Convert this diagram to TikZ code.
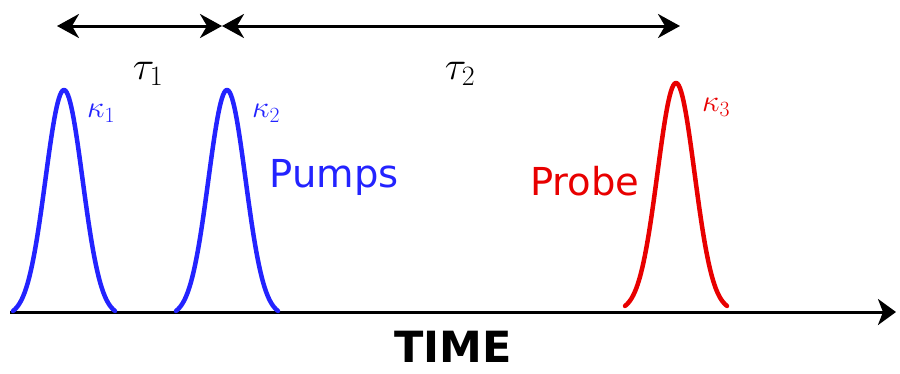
\RequirePackage{fix-cm}
\documentclass[tikz,border=0pt]{standalone}
\usepackage{fontspec}
\setmainfont{DejaVu Sans}
\usetikzlibrary{arrows.meta}
\definecolor{pumpblue}{RGB}{35,35,255}
\definecolor{probered}{RGB}{232,0,0}
\begin{document}
\begin{tikzpicture}[x=1pt,y=-1pt,
  pulse/.style={line width=4.5pt,line cap=round,line join=round},
  delay/.style={line width=3pt,{Stealth[length=22pt,width=24pt,inset=7pt]}-{Stealth[length=22pt,width=24pt,inset=7pt]}},
  axisline/.style={line width=3pt,-{Stealth[length=18pt,width=26pt,inset=5pt]}},
  mathlbl/.style={inner sep=0pt,font=\fontsize{40}{42}\selectfont},
  kaplbl/.style={inner sep=0pt,font=\fontsize{31}{33}\selectfont},
  txtlbl/.style={inner sep=0pt,font=\fontsize{38.5}{40}\selectfont}]
\useasboundingbox (0,0) rectangle (900,373);
% axis
\coordinate (ax0) at (10,312);
\coordinate (ax1) at (896,312);
\draw[axisline] (ax0) -- (ax1);
% delay arrows
\coordinate (a1) at (57,26);
\coordinate (a2) at (222,26);
\coordinate (a3) at (680,26);
\draw[delay] (a1) -- (a2);
\draw[delay] (a2) -- (a3);
% pulses
\draw[pulse,pumpblue] plot[domain=-51:51,samples=90] ({64+\x},{311-221*(exp(-(\x*\x)/(2*18.5*18.5))-0.022)/0.978});
\draw[pulse,pumpblue] plot[domain=-51:51,samples=90] ({227+\x},{311-221*(exp(-(\x*\x)/(2*18.5*18.5))-0.022)/0.978});
\draw[pulse,probered] plot[domain=-51:51,samples=90] ({676+\x},{306-223*(exp(-(\x*\x)/(2*18.5*18.5))-0.022)/0.978});
% labels
\node[mathlbl] (t1) at (148,74) {$\tau_1$};
\node[mathlbl] (t2) at (460,74) {$\tau_2$};
\node[kaplbl,pumpblue] (k1) at (101,113) {$\kappa_1$};
\node[kaplbl,pumpblue] (k2) at (266,113) {$\kappa_2$};
\node[kaplbl,probered] (k3) at (716,107) {$\kappa_3$};
\node[txtlbl,pumpblue] (pumps) at (334,177) {Pumps};
\node[txtlbl,probered] (probe) at (585,181) {Probe};
\node[inner sep=0pt,font=\fontsize{43}{46}\selectfont\bfseries] (time) at (453,347) {TIME};
\end{tikzpicture}
\end{document}
